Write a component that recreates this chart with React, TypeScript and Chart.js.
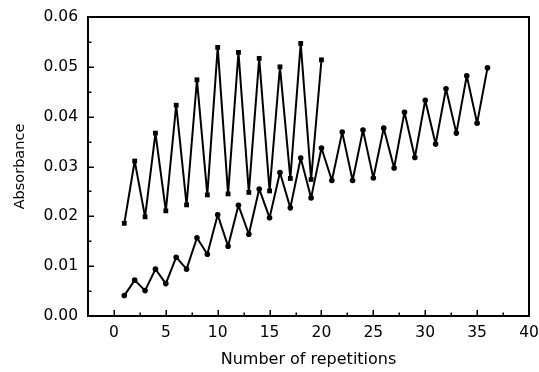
import React, { useEffect, useRef } from "react";
import { Chart, registerables } from "chart.js";

Chart.register(...registerables);

// Series 1 (squares)
const repetitionsSquares = [1, 2, 3, 4, 5, 6, 7, 8, 9, 10, 11, 12, 13, 14, 15, 16, 17, 18, 19, 20];
const absorbanceSquares = [
  0.0186, 0.0311, 0.0199, 0.0367, 0.0211, 0.0423, 0.0223, 0.0474, 0.0243, 0.0539,
  0.0245, 0.0529, 0.0248, 0.0517, 0.0251, 0.05, 0.0276, 0.0547, 0.0274, 0.0514,
];

// Series 2 (circles)
const repetitionsCircles = [
  1, 2, 3, 4, 5, 6, 7, 8, 9, 10, 11, 12, 13, 14, 15, 16, 17, 18,
  19, 20, 21, 22, 23, 24, 25, 26, 27, 28, 29, 30, 31, 32, 33, 34, 35, 36,
];
const absorbanceCircles = [
  0.0041, 0.0072, 0.0051, 0.0094, 0.0065, 0.0118, 0.0094, 0.0157, 0.0124, 0.0203,
  0.014, 0.0222, 0.0164, 0.0255, 0.0197, 0.0288, 0.0217, 0.0317, 0.0237, 0.0337,
  0.0272, 0.0369, 0.0272, 0.0373, 0.0277, 0.0377, 0.0297, 0.0409, 0.0318, 0.0433,
  0.0345, 0.0456, 0.0367, 0.0482, 0.0387, 0.0498,
];

const xTickValues = [0, 5, 10, 15, 20, 25, 30, 35, 40];
const xMinorTickValues = [2.5, 7.5, 12.5, 17.5, 22.5, 27.5, 32.5, 37.5];
const yTickValues = [0, 0.01, 0.02, 0.03, 0.04, 0.05, 0.06];
const yMinorTickValues = [0.005, 0.015, 0.025, 0.035, 0.045, 0.055];

const xTitle = "Number of repetitions";
const yTitle = "Absorbance";

const FONT_FAMILY = '"DejaVu Sans", "Liberation Sans", Arial, sans-serif';

const frameAndTicks = {
  id: "frameAndTicks",
  afterDraw(chart: any) {
    const { ctx, chartArea, scales } = chart;
    const { left, right, top, bottom } = chartArea;
    const x = scales.x;
    const y = scales.y;
    ctx.save();
    ctx.strokeStyle = "#000";
    ctx.lineWidth = 1.5;
    ctx.beginPath();
    xTickValues.forEach((v) => {
      const px = Math.round(x.getPixelForValue(v)) + 0.25;
      ctx.moveTo(px, bottom);
      ctx.lineTo(px, bottom - 6);
    });
    xMinorTickValues.forEach((v) => {
      const px = Math.round(x.getPixelForValue(v)) + 0.25;
      ctx.moveTo(px, bottom);
      ctx.lineTo(px, bottom - 3.5);
    });
    yTickValues.forEach((v) => {
      const py = Math.round(y.getPixelForValue(v)) + 0.25;
      ctx.moveTo(left, py);
      ctx.lineTo(left + 6, py);
    });
    yMinorTickValues.forEach((v) => {
      const py = Math.round(y.getPixelForValue(v)) + 0.25;
      ctx.moveTo(left, py);
      ctx.lineTo(left + 3.5, py);
    });
    ctx.stroke();
    ctx.lineWidth = 2;
    ctx.strokeRect(left, top, right - left, bottom - top);
    ctx.restore();
  },
};

export default function App() {
  const canvasRef = useRef<HTMLCanvasElement | null>(null);

  useEffect(() => {
    const canvas = canvasRef.current;
    if (!canvas) return;
    const chart = new Chart(canvas, {
      type: "line",
      data: {
        datasets: [
          {
            label: "Squares",
            data: repetitionsSquares.map((r, i) => ({ x: r, y: absorbanceSquares[i] })),
            borderColor: "#000",
            backgroundColor: "#000",
            borderWidth: 2,
            borderJoinStyle: "round",
            pointStyle: "rect",
            pointRadius: 3.4,
            pointBorderWidth: 0,
            fill: false,
            tension: 0,
          },
          {
            label: "Circles",
            data: repetitionsCircles.map((r, i) => ({ x: r, y: absorbanceCircles[i] })),
            borderColor: "#000",
            backgroundColor: "#000",
            borderWidth: 2,
            borderJoinStyle: "round",
            pointStyle: "circle",
            pointRadius: 2.8,
            pointBorderWidth: 0,
            fill: false,
            tension: 0,
          },
        ],
      },
      options: {
        responsive: false,
        animation: false,
        devicePixelRatio: 1,
        layout: { padding: { left: 0, right: 10, top: 17, bottom: 0 } },
        plugins: {
          legend: { display: false },
          tooltip: { enabled: false },
        },
        scales: {
          x: {
            type: "linear",
            min: -2.5,
            max: 40,
            afterBuildTicks: (s: any) => {
              s.ticks = xTickValues.map((value) => ({ value }));
            },
            afterFit: (s: any) => {
              s.height = 56;
              s.paddingLeft = 0;
              s.paddingRight = 0;
            },
            grid: { display: false, drawTicks: false },
            border: { display: false },
            ticks: {
              color: "#000",
              padding: 8,
              maxRotation: 0,
              autoSkip: false,
              font: { family: FONT_FAMILY, size: 15.5 },
              callback: (v: any) => String(v),
            },
            title: {
              display: true,
              text: xTitle,
              color: "#000",
              font: { family: FONT_FAMILY, size: 16, lineHeight: 1.2 },
              padding: { top: 0, bottom: 3 },
            },
          },
          y: {
            type: "linear",
            min: 0,
            max: 0.06,
            afterBuildTicks: (s: any) => {
              s.ticks = yTickValues.map((value) => ({ value }));
            },
            afterFit: (s: any) => {
              s.width = 88;
              s.paddingTop = 0;
              s.paddingBottom = 0;
            },
            grid: { display: false, drawTicks: false },
            border: { display: false },
            ticks: {
              color: "#000",
              padding: 10,
              autoSkip: false,
              font: { family: FONT_FAMILY, size: 15.5 },
              callback: (v: any) => Number(v).toFixed(2),
            },
            title: {
              display: true,
              text: yTitle,
              color: "#000",
              font: { family: FONT_FAMILY, size: 14.5, lineHeight: 1.2 },
              padding: { top: 12, bottom: 0 },
            },
          },
        },
      },
      plugins: [frameAndTicks],
    });
    return () => chart.destroy();
  }, []);

  return (
    <div style={{ position: "absolute", left: 0, top: 0, width: 539, height: 372, background: "#fff" }}>
      <canvas ref={canvasRef} width={539} height={372} style={{ display: "block", width: 539, height: 372 }} />
    </div>
  );
}
